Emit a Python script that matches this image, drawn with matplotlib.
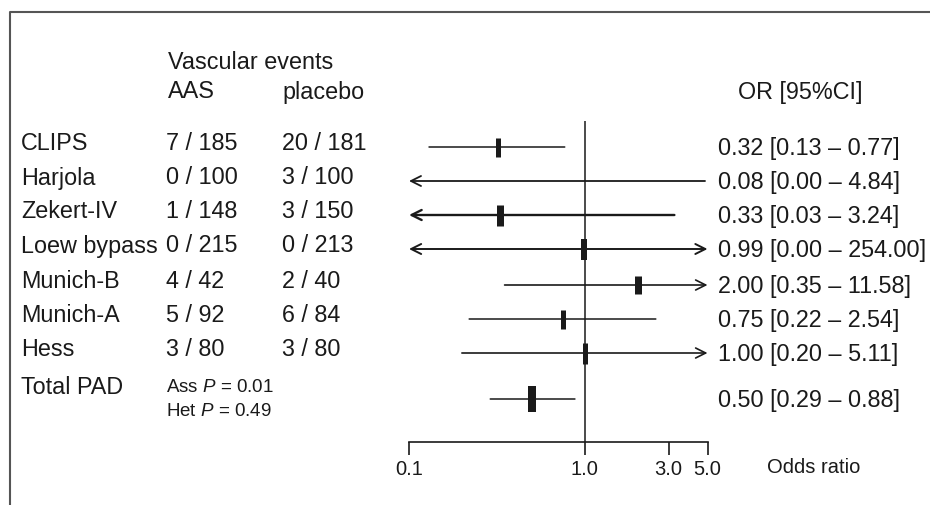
import matplotlib
matplotlib.use("Agg")
import matplotlib.pyplot as plt
from matplotlib import transforms
from matplotlib.lines import Line2D

# Study data
studies = ["CLIPS", "Harjola", "Zekert-IV", "Loew bypass", "Munich-B", "Munich-A", "Hess", "Total PAD"]
aas_events = ["7 / 185", "0 / 100", "1 / 148", "0 / 215", "4 / 42", "5 / 92", "3 / 80"]
placebo_events = ["20 / 181", "3 / 100", "3 / 150", "0 / 213", "2 / 40", "6 / 84", "3 / 80"]
odds = [0.32, 0.08, 0.33, 0.99, 2.00, 0.75, 1.00, 0.50]
ci_low = [0.13, 0.00, 0.03, 0.00, 0.35, 0.22, 0.20, 0.29]
ci_high = [0.77, 4.84, 3.24, 254.00, 11.58, 2.54, 5.11, 0.88]
tick_vals = [0.1, 1.0, 3.0, 5.0]
tick_labels = ["0.1", "1.0", "3.0", "5.0"]
total_stats = ["Ass $P$ = 0.01", "Het $P$ = 0.49"]

# Layout / style (pixels)
W, H = 930, 506
row_y = [148, 182, 216, 250, 286, 320, 354, 400]
label_y = [144, 178, 212, 246, 282, 316, 350, 387]
line_w = [1.1, 1.3, 1.7, 1.4, 1.2, 1.1, 1.2, 1.1]
box_h = [19, 0, 21, 21, 18, 19, 21, 26]
box_w = [5, 0, 7, 6, 7, 5, 5, 8]
ink = "#1a1a1a"
fs = 16.8

plt.rcParams["font.family"] = ["Liberation Sans", "DejaVu Sans"]
plt.rcParams["mathtext.fontset"] = "custom"
plt.rcParams["mathtext.rm"] = "Liberation Sans"
plt.rcParams["mathtext.it"] = "Liberation Sans:italic"

fig = plt.figure(figsize=(W / 100, H / 100), dpi=100)

# forest axes: x from 0.1 (409 px) to 5.0 (707.5 px), y from 122 px to 443 px
x0, x1, ytop, ybot = 409, 707.5, 122, 443
ax = fig.add_axes([x0 / W, 1 - ybot / H, (x1 - x0) / W, (ybot - ytop) / H])
ax.set_xscale("log")
ax.set_xlim(0.1, 5.0)
ax.set_ylim(ybot, ytop)
ax.patch.set_alpha(0)
for s in ["left", "right", "top"]:
    ax.spines[s].set_visible(False)
ax.spines["bottom"].set_linewidth(1.2)
ax.spines["bottom"].set_color(ink)
ax.set_yticks([])
ax.set_xticks(tick_vals)
ax.set_xticklabels(tick_labels)
ax.minorticks_off()
ax.tick_params(axis="x", which="major", direction="out", length=9, width=1.2,
               pad=3, labelsize=14.5, colors=ink)
ax.axvline(1.0, color=ink, lw=1.1, zorder=1)

lo_lim, hi_lim = ax.get_xlim()
for i in range(len(studies)):
    lo = max(ci_low[i], lo_lim)
    hi = min(ci_high[i], hi_lim)
    left_arrow = ci_low[i] < lo_lim
    right_arrow = ci_high[i] > hi_lim
    style = {(False, False): "-", (True, False): "<-",
             (False, True): "->", (True, True): "<->"}[(left_arrow, right_arrow)]
    ax.annotate("", xy=(hi, row_y[i]), xytext=(lo, row_y[i]),
                arrowprops=dict(arrowstyle=style, color=ink, lw=line_w[i],
                                shrinkA=0, shrinkB=0, mutation_scale=18),
                annotation_clip=False, zorder=2)
    if box_h[i] > 0:
        ax.plot([odds[i]], [row_y[i]], marker="|", ms=box_h[i] * 0.72,
                mew=box_w[i] * 0.72, color=ink, zorder=3)

# text columns
tr = transforms.blended_transform_factory(fig.transFigure, ax.transData)
for i, name in enumerate(studies):
    ax.text(21 / W, label_y[i], name, transform=tr, fontsize=fs,
            va="center", ha="left", color=ink)
    if i < len(aas_events):
        ax.text(166 / W, label_y[i], aas_events[i], transform=tr, fontsize=fs,
                va="center", ha="left", color=ink)
        ax.text(282 / W, label_y[i], placebo_events[i], transform=tr, fontsize=fs,
                va="center", ha="left", color=ink)
    label = f"{odds[i]:.2f} [{ci_low[i]:.2f} \u2013 {ci_high[i]:.2f}]"
    ax.text(718 / W, row_y[i], label, transform=tr, fontsize=fs,
            va="center", ha="left", color=ink)

ax.text(166 / W, 388, total_stats[0], transform=tr, fontsize=13.5,
        va="center", ha="left", color=ink)
ax.text(166 / W, 412, total_stats[1], transform=tr, fontsize=13.5,
        va="center", ha="left", color=ink)

# headers
fig.text(168 / W, 1 - 63 / H, "Vascular events", fontsize=fs, va="center", color=ink)
fig.text(168 / W, 1 - 92 / H, "AAS", fontsize=fs, va="center", color=ink)
fig.text(282 / W, 1 - 92 / H, "placebo", fontsize=fs, va="center", color=ink)
fig.text(738 / W, 1 - 93 / H, "OR [95%CI]", fontsize=fs, va="center", color=ink)
fig.text(767 / W, 1 - 468 / H, "Odds ratio", fontsize=14.5, va="center", color=ink)

# outer frame (top and left edges only are visible)
fig.add_artist(Line2D([10 / W, 10 / W, 1.0], [0.0, 1 - 13 / H, 1 - 13 / H],
                      transform=fig.transFigure, color="#555555", lw=1.5))

fig.savefig("out.png", dpi=100)
